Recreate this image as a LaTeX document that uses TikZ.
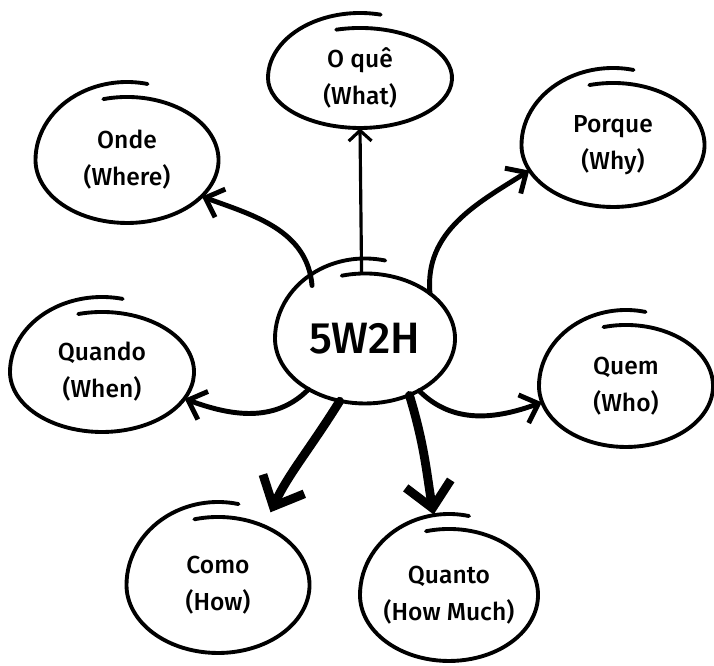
\documentclass[tikz,border=0pt]{standalone}
\usepackage{fontspec}
\newfontfamily\handfont{Fira Sans Medium}
\usepackage{tikz}
\usetikzlibrary{shapes.geometric,arrows.meta}

% bubble: name, position, x radius, y radius, text
\newcommand{\bubble}[5]{%
  \node[bubble, minimum width=2*#3, minimum height=2*#4] (#1) at (#2) {#5};
  \draw[ring] (#1.center) ++(105:#3 and #4)
    arc[start angle=105, end angle=-180, x radius=#3, y radius=#4]
    arc[start angle=180, end angle=77, x radius=#3, y radius=#4+0.3cm];
}

\begin{document}
\begin{tikzpicture}[
    bubble/.style={ellipse, inner sep=0pt, align=center,
      font=\handfont\fontsize{14}{21}\selectfont},
    ring/.style={line width=2.2pt, line cap=round},
    link/.style={line width=2.8pt, line cap=round,
      -{Straight Barb[length=9pt,width=17pt]}},
    biglink/.style={line width=5pt, line cap=round, shorten >=0.3cm,
      -{Straight Barb[length=14pt,width=26pt]}},
    thinlink/.style={line width=1.8pt, -{Straight Barb[length=6pt,width=13pt]}}]
  \useasboundingbox (0,0) rectangle (14.28,13.32);

  \bubble{hub}{7.3,6.55}{1.8cm}{1.3cm}{\fontsize{25}{28}\selectfont 5W2H}
  \bubble{what}{7.2,11.76}{1.84cm}{1.0cm}{O quê\\(What)}
  \bubble{where}{2.54,10.12}{1.83cm}{1.26cm}{Onde\\(Where)}
  \bubble{why}{12.26,10.42}{1.83cm}{1.24cm}{Porque\\(Why)}
  \bubble{when}{2.04,5.88}{1.84cm}{1.2cm}{Quando\\(When)}
  \bubble{who}{12.52,5.6}{1.74cm}{1.22cm}{Quem\\(Who)}
  \bubble{how}{4.36,1.62}{1.83cm}{1.36cm}{Como\\(How)}
  \bubble{howmuch}{8.98,1.42}{1.78cm}{1.32cm}{Quanto\\(How Much)}

  % connectors
  \draw[thinlink] (hub.93) -- (what.south);
  \draw[link] (hub.135) to[out=95,in=-20] (where.-26);
  \draw[link] (hub.35) to[out=95,in=212] (why.197);
  \draw[link] (hub.222) to[out=225,in=-20] (when.-18);
  \draw[link] (hub.-44) to[out=-45,in=200] (who.191);
  \draw[biglink] (hub.248) to[out=238,in=65] (how.52);
  \draw[biglink] (hub.-52) to[out=-73,in=100] (howmuch.101);
\end{tikzpicture}
\end{document}
